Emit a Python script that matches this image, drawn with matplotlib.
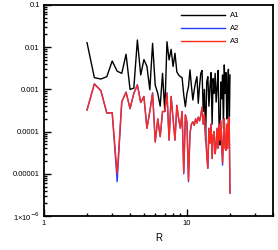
import numpy as np
import matplotlib
matplotlib.use("Agg")
import matplotlib.pyplot as plt
from matplotlib.ticker import LogLocator, NullFormatter

plt.rcParams['font.family'] = ['Liberation Sans', 'DejaVu Sans']

# R grid 2..20, step 0.25
R = np.arange(2.0, 20.001, 0.25)

A1 = [0.0128, 0.0019, 0.00176, 0.002, 0.0047, 0.0027, 0.0024, 0.0068, 0.001, 0.00107,
      0.0148, 0.0022, 0.0051, 0.0035, 0.00098, 0.0123, 0.00126, 0.0008, 0.0004, 0.0024,
      0.0003, 0.0135, 0.005, 0.0089, 0.0035, 0.0072, 0.0026, 0.0022, 0.002, 0.0019,
      0.00074, 0.00039, 0.0008, 0.00115, 0.0029, 0.0012, 0.00056, 0.00098, 0.0015, 0.002,
      0.00047, 0.0012, 0.0024, 0.0028, 0.0003, 0.001, 0.00006, 0.0015, 0.002, 0.0004,
      0.0012, 0.0025, 0.00015, 0.0018, 0.0008, 0.0024, 0.0005, 0.0011, 0.0028, 0.00018,
      0.000048, 0.0015, 0.0006, 0.0022, 0.00012, 0.0038, 0.0008, 0.0025, 0.0002, 0.0009,
      0.003, 0.00008, 0.0022]

A2 = [0.000325, 0.00136, 0.00093, 0.000275, 0.00028, 0.0000065, 0.00051, 0.00087, 0.00035, 0.00081,
      0.0013, 0.00049, 0.00068, 0.00012, 0.0003, 0.00083, 0.000057, 0.0002, 0.000076, 0.0003,
      0.0003, 0.00083, 0.000063, 0.00068, 0.0002, 0.000063, 0.00042, 0.0002, 0.00012, 0.0003,
      0.0000100, 0.00025, 0.00017, 0.0000065, 0.00009, 0.00015, 0.00017, 0.00014, 0.0002, 0.00016,
      0.00022, 0.00018, 0.00024, 0.00038, 0.00015, 0.00025, 0.00009, 0.00003, 0.0000135, 0.00012,
      0.000053, 0.00015, 0.000023, 0.00008, 0.0001, 0.00003, 0.000047, 0.00012, 0.00004, 0.00015,
      0.000063, 0.00018, 0.00005, 0.000016, 0.00008, 0.0002, 0.00004, 0.000036, 0.00015, 0.00004,
      0.0002, 0.00022, 0.0000035]

A3 = [0.000325, 0.00134, 0.00093, 0.000275, 0.00028, 0.00001, 0.00051, 0.00085, 0.00035, 0.00081,
      0.00126, 0.00049, 0.00068, 0.00012, 0.0003, 0.00081, 0.000057, 0.0002, 0.000076, 0.0003,
      0.0003, 0.00081, 0.000063, 0.00068, 0.0002, 0.000063, 0.00042, 0.0002, 0.00012, 0.0003,
      0.0000107, 0.00025, 0.00017, 0.000007, 0.00009, 0.00015, 0.00017, 0.00014, 0.0002, 0.00016,
      0.00022, 0.00018, 0.00024, 0.00038, 0.00015, 0.00025, 0.00009, 0.00003, 0.0000135, 0.00012,
      0.000053, 0.00015, 0.000023, 0.00008, 0.0001, 0.00003, 0.000047, 0.00012, 0.00004, 0.00015,
      0.000063, 0.00018, 0.00005, 0.000018, 0.00008, 0.0002, 0.00004, 0.000036, 0.00015, 0.00004,
      0.0002, 0.00022, 0.0000035]

ytick_vals = [1e-6, 1e-5, 1e-4, 1e-3, 1e-2, 1e-1]
ytick_labels = ['1\u00d710$^{-6}$', '0.00001', '0.0001', '0.001', '0.01', '0.1']
xtick_vals = [1, 10]
xtick_labels = ['1', '10']

fig = plt.figure(figsize=(2.78, 2.5), dpi=100)
ax = fig.add_axes([44/278, 34/250, 229/278, 211/250])

ax.plot(R, A1, color='black', lw=1.0, label='A1')
ax.plot(R, A2, color='#2040ff', lw=1.0, label='A2')
ax.plot(R, A3, color='#ff2a1a', lw=1.0, label='A3')

ax.set_xscale('log')
ax.set_yscale('log')
ax.set_xlim(1, 40)
ax.set_ylim(1e-6, 0.1)

ax.set_yticks(ytick_vals, ytick_labels)
ax.set_xticks(xtick_vals, xtick_labels)
ax.yaxis.set_minor_locator(LogLocator(base=10, subs=np.arange(2, 10), numticks=100))
ax.yaxis.set_minor_formatter(NullFormatter())
ax.xaxis.set_minor_locator(LogLocator(base=10, subs=np.arange(2, 10), numticks=100))
ax.xaxis.set_minor_formatter(NullFormatter())

ax.tick_params(which='both', direction='in', top=False, right=False, labelsize=5.5,
               width=1.0, color='black', pad=3)
ax.tick_params(which='major', length=5)
ax.tick_params(which='minor', length=2.5)
for s in ax.spines.values():
    s.set_linewidth(1.3)

ax.set_xlabel('R', fontsize=7, labelpad=4)

ax.legend(loc='upper right', bbox_to_anchor=(0.87, 0.985), frameon=False, fontsize=5.5,
          handlelength=5.8, handletextpad=0.6, labelspacing=0.75, borderpad=0)

fig.canvas.draw()
fig.savefig('out.png', dpi=100)
